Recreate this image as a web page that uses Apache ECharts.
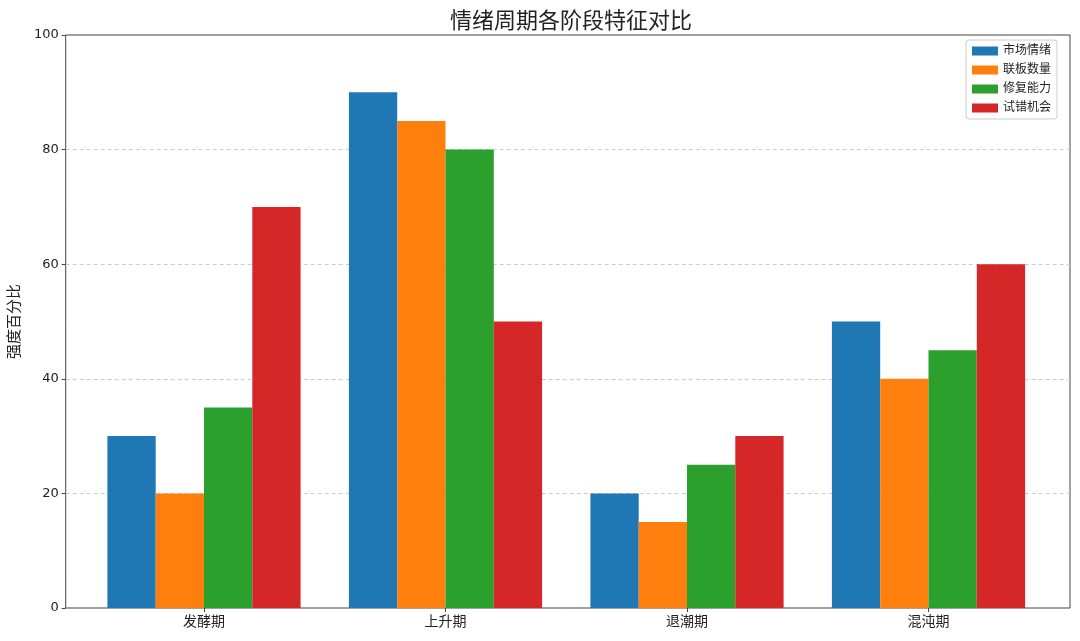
<!DOCTYPE html>
<html><head><meta charset="utf-8">
<script src="https://cdn.jsdelivr.net/npm/echarts@6/dist/echarts.min.js"></script>
<style>html,body{margin:0;padding:0;background:#fff}#c{width:1080px;height:641px}</style>
</head><body><div id="c"></div>
<script>
const categories = ['发酵期', '上升期', '退潮期', '混沌期'];
const seriesNames = ['市场情绪', '联板数量', '修复能力', '试错机会'];
const marketMood = [30, 90, 20, 50];
const boardCount = [20, 85, 15, 40];
const repairAbility = [35, 80, 25, 45];
const trialChance = [70, 50, 30, 60];
const yTicks = [0, 20, 40, 60, 80, 100];
const colors = ['#1f77b4', '#ff7f0e', '#2ca02c', '#d62728'];
const values = [marketMood, boardCount, repairAbility, trialChance];
const FONT = "'DejaVu Sans', 'Noto Sans CJK SC', sans-serif";

const chart = echarts.init(document.getElementById('c'));
chart.setOption({
  animation: false,
  textStyle: { fontFamily: FONT },
  title: {
    text: '情绪周期各阶段特征对比', left: 566, top: 6, textAlign: 'center',
    textStyle: { fontFamily: FONT, fontSize: 22, fontWeight: 'normal', color: '#222' }
  },
  legend: {
    data: seriesNames, orient: 'vertical', right: 23, top: 40,
    icon: 'rect', itemWidth: 26, itemHeight: 9, itemGap: 7,
    backgroundColor: '#fff', borderColor: '#ccc', borderWidth: 1, borderRadius: 3,
    padding: [5, 6, 5, 6],
    textStyle: { fontFamily: FONT, fontSize: 12, color: '#222' }
  },
  grid: [
    { left: 83.25, width: 966, top: 35, bottom: 33, containLabel: false },
    { left: 62, right: 10, top: 35, bottom: 33, show: true, borderColor: '#444', borderWidth: 1, backgroundColor: 'transparent', containLabel: false }
  ],
  xAxis: [
    { type: 'category', gridIndex: 0, data: categories, boundaryGap: true,
      axisLine: { show: false },
      axisTick: { show: true, alignWithLabel: true, length: 4, lineStyle: { color: '#444' } },
      axisLabel: { fontFamily: FONT, fontSize: 14, color: '#222', margin: 7 } },
    { type: 'value', gridIndex: 1, min: 0, max: 1, show: false }
  ],
  yAxis: [
    { type: 'value', gridIndex: 0, min: 0, max: 100, show: false, splitLine: { show: false } },
    { type: 'value', gridIndex: 1, min: 0, max: 100, interval: 20,
      name: '强度百分比', nameLocation: 'middle', nameGap: 35, nameRotate: 90,
      nameTextStyle: { fontFamily: FONT, fontSize: 15, color: '#222' },
      axisLine: { show: false },
      axisTick: { show: true, length: 4, lineStyle: { color: '#444' } },
      axisLabel: { fontFamily: FONT, fontSize: 13, color: '#222', margin: 7,
        formatter: v => yTicks.includes(v) ? String(v) : '' },
      splitLine: { show: true, lineStyle: { type: [4, 3], width: 1,
        color: ['transparent', '#cccccc', '#cccccc', '#cccccc', '#cccccc', 'transparent'] } } }
  ],
  series: seriesNames.map((name, i) => ({
    name, type: 'bar', xAxisIndex: 0, yAxisIndex: 0,
    data: values[i], barGap: '0%', barCategoryGap: '20%',
    itemStyle: { color: colors[i] }, z: 3
  }))
});
</script></body></html>
